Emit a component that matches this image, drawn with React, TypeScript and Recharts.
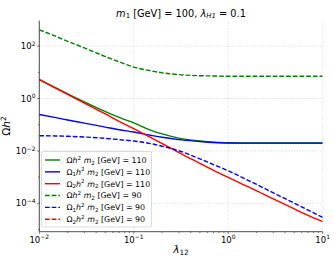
import React from 'react';
import { LineChart, Line, XAxis, YAxis, CartesianGrid, ReferenceLine, Legend, Customized } from 'recharts';

// lambda_12 sample points
const LAMBDA12 = [0.01, 0.015, 0.02, 0.03, 0.05, 0.07, 0.1, 0.15, 0.2, 0.3, 0.5, 0.7, 1, 1.5, 2, 3, 5, 7, 10];

// m2 = 110 GeV
const OMEGA_110 = [5.37, 2.57, 1.51, 0.741, 0.316, 0.19, 0.117, 0.0625, 0.0445, 0.0309, 0.024, 0.0214, 0.0204, 0.0201, 0.02, 0.02, 0.02, 0.02, 0.02];
const OMEGA1_110 = [0.245, 0.186, 0.151, 0.115, 0.0813, 0.0646, 0.0525, 0.0398, 0.0331, 0.0269, 0.0229, 0.0209, 0.02, 0.0199, 0.0199, 0.0199, 0.0199, 0.0199, 0.0199];
const OMEGA2_110 = [5.25, 2.45, 1.43, 0.661, 0.257, 0.135, 0.0708, 0.0331, 0.0191, 0.00871, 0.00339, 0.00182, 0.000977, 0.00049, 0.000302, 0.000148, 0.0000617, 0.0000347, 0.00002];

// m2 = 90 GeV
const OMEGA_90 = [417, 234, 151, 85.1, 39.8, 25.1, 15.8, 11.5, 9.55, 8.13, 7.41, 7.24, 7.08, 7.08, 7.08, 7.08, 7.08, 7.08, 7.08];
const OMEGA1_90 = [0.038, 0.0372, 0.0363, 0.0339, 0.0302, 0.0269, 0.024, 0.0191, 0.0151, 0.0102, 0.00501, 0.00302, 0.00174, 0.000871, 0.000525, 0.000251, 0.000102, 0.000055, 0.0000295];
const OMEGA2_90 = [null, null, null, null, null, null, null, null, null, null, null, null, null, null, null, null, null, null, null];

// axis ticks
const X_MAJOR = [0.01, 0.1, 1, 10];
const X_MINOR = [0.02, 0.03, 0.04, 0.05, 0.06, 0.07, 0.08, 0.09, 0.2, 0.3, 0.4, 0.5, 0.6, 0.7, 0.8, 0.9, 2, 3, 4, 5, 6, 7, 8, 9];
const Y_MAJOR = [1e-4, 1e-2, 1, 100];
const Y_MINOR = [1e-5, 1e-3, 1e-1, 10];
const Y_DOMAIN = [8.3e-6, 930];

// series
const SERIES_KEYS = ['g110', 'b110', 'r110', 'g90', 'b90', 'r90'];
const SERIES_SUB = ['', '1', '2', '', '1', '2'];
const SERIES_MASS = ['110', '110', '110', '90', '90', '90'];
const SERIES_COLORS = ['#008000', '#0000ff', '#ff0000', '#008000', '#0000ff', '#ff0000'];
const SERIES_DASHED = [false, false, false, true, true, true];
const SERIES_VALUES = [OMEGA_110, OMEGA1_110, OMEGA2_110, OMEGA_90, OMEGA1_90, OMEGA2_90];

const TITLE_M1 = '100';
const TITLE_LAMBDA = '0.1';

const data = LAMBDA12.map((x, i) => {
  const row: any = { x };
  SERIES_KEYS.forEach((k, j) => {
    row[k] = SERIES_VALUES[j][i];
  });
  return row;
});

const FONT = 'DejaVu Sans, sans-serif';
const DASH = '4.7 2';
const AXIS_COLOR = '#222';

const expText = (v: number) => {
  const e = Math.round(Math.log10(v));
  return e < 0 ? '\u2212' + Math.abs(e) : String(e);
};

const XTick = (props: any) => {
  const { x, y, payload } = props;
  const v = payload.value;
  const major = X_MAJOR.some((m) => Math.abs(m - v) / m < 1e-6);
  return (
    <g>
      <line x1={x} x2={x} y1={y} y2={y + (major ? 2.2 : 1.3)} stroke={AXIS_COLOR} strokeWidth={0.6} />
      {major && (
        <text x={x} y={y + 11} textAnchor="middle" fontSize={8.5} fill="#000" fontFamily={FONT}>
          <tspan>10</tspan>
          <tspan dy={-3.4} fontSize={6}>{expText(v)}</tspan>
        </text>
      )}
    </g>
  );
};

const YTick = (props: any) => {
  const { x, y, payload } = props;
  const v = payload.value;
  const major = Y_MAJOR.some((m) => Math.abs(m - v) / m < 1e-6);
  return (
    <g>
      <line x1={x - (major ? 2.2 : 1.3)} x2={x} y1={y} y2={y} stroke={AXIS_COLOR} strokeWidth={0.6} />
      {major && (
        <text x={x - 3.8} y={y + 3} textAnchor="end" fontSize={8.5} fill="#000" fontFamily={FONT}>
          <tspan>10</tspan>
          <tspan dy={-3.4} fontSize={6}>{expText(v)}</tspan>
        </text>
      )}
    </g>
  );
};

const LegendLabel = ({ x, y, sub, mass }: { x: number; y: number; sub: string; mass: string }) => {
  const fs = 7.9;
  const ss = 5.6;
  return (
    <text x={x} y={y} fontSize={fs} fontFamily={FONT} fill="#000" style={{ whiteSpace: 'pre' }}>
      <tspan>Ω</tspan>
      {sub ? <tspan fontSize={ss} dy={1.8}>{sub}</tspan> : null}
      <tspan fontStyle="italic" dy={sub ? -1.8 : 0}>h</tspan>
      <tspan fontSize={ss} dy={-3.2}>2</tspan>
      <tspan dy={3.2}> </tspan>
      <tspan fontStyle="italic">m</tspan>
      <tspan fontSize={ss} dy={1.8}>2</tspan>
      <tspan dy={-1.8}>{' [GeV] = ' + mass}</tspan>
    </text>
  );
};

const renderLegend = () => {
  const w = 110;
  const h = 75.5;
  return (
    <svg width={w + 1} height={h + 1} style={{ display: 'block' }}>
      <rect x={0.5} y={0.5} width={w} height={h} rx={2} ry={2} fill="#fff" fillOpacity={0.8} stroke="#cccccc" strokeWidth={0.7} />
      {SERIES_KEYS.map((k, i) => {
        const cy = 9 + i * 11.85;
        return (
          <g key={k}>
            <line x1={4} x2={19} y1={cy} y2={cy} stroke={SERIES_COLORS[i]} strokeWidth={1.4} strokeDasharray={SERIES_DASHED[i] ? DASH : undefined} />
            <LegendLabel x={25.5} y={cy + 2.8} sub={SERIES_SUB[i]} mass={SERIES_MASS[i]} />
          </g>
        );
      })}
    </svg>
  );
};

const Texts = () => (
  <g fontFamily={FONT} fill="#000">
    <text x={181} y={16.5} textAnchor="middle" fontSize={9.8} style={{ whiteSpace: 'pre' }}>
      <tspan fontStyle="italic">m</tspan>
      <tspan fontSize={6.9} dy={1.9}>1</tspan>
      <tspan dy={-1.9}>{' [GeV] = ' + TITLE_M1 + ', '}</tspan>
      <tspan fontStyle="italic">λ</tspan>
      <tspan fontSize={6.9} dy={1.9} fontStyle="italic">H1</tspan>
      <tspan dy={-1.9}>{' = ' + TITLE_LAMBDA}</tspan>
    </text>
    <text x={181} y={253} textAnchor="middle" fontSize={10.5}>
      <tspan fontStyle="italic">λ</tspan>
      <tspan fontSize={7.3} dy={2.3}>12</tspan>
    </text>
    <text x={10.3} y={126} textAnchor="middle" fontSize={10.5} transform="rotate(-90 10.3 126)">
      <tspan>Ω</tspan>
      <tspan fontStyle="italic">h</tspan>
      <tspan fontSize={7.3} dy={-4}>2</tspan>
    </text>
  </g>
);

export default function App() {
  return (
    <div style={{ position: 'absolute', left: 0, top: 0, width: 334, height: 262, background: '#fff' }}>
      <LineChart width={334} height={262} data={data} margin={{ top: 20.7, right: 11.3, left: 0, bottom: 0 }}>
        <CartesianGrid vertical={false} stroke="#c8c8c8" strokeDasharray="1 1.6" strokeWidth={0.7} horizontalValues={Y_MAJOR} />
        {X_MAJOR.map((v) => (
          <ReferenceLine key={v} x={v} stroke="#c8c8c8" strokeDasharray="1 1.6" strokeWidth={0.7} />
        ))}
        <XAxis
          dataKey="x"
          type="number"
          scale="log"
          domain={[0.01, 10]}
          allowDataOverflow
          ticks={[...X_MAJOR, ...X_MINOR]}
          interval={0}
          tickSize={0}
          tickMargin={0}
          tickLine={false}
          tick={<XTick />}
          height={30.3}
          axisLine={{ stroke: AXIS_COLOR, strokeWidth: 0.8 }}
        />
        <XAxis
          xAxisId="top"
          dataKey="x"
          type="number"
          scale="log"
          domain={[0.01, 10]}
          allowDataOverflow
          orientation="top"
          tick={false}
          tickLine={false}
          height={0}
          axisLine={{ stroke: AXIS_COLOR, strokeWidth: 0.8 }}
        />
        <YAxis
          type="number"
          scale="log"
          domain={Y_DOMAIN}
          allowDataOverflow
          ticks={[...Y_MAJOR, ...Y_MINOR]}
          interval={0}
          tickSize={0}
          tickMargin={0}
          tickLine={false}
          tick={<YTick />}
          width={39.3}
          axisLine={{ stroke: AXIS_COLOR, strokeWidth: 0.8 }}
        />
        <YAxis
          yAxisId="right"
          orientation="right"
          type="number"
          scale="log"
          domain={Y_DOMAIN}
          allowDataOverflow
          tick={false}
          tickLine={false}
          width={0}
          axisLine={{ stroke: AXIS_COLOR, strokeWidth: 0.8 }}
        />
        {SERIES_KEYS.map((k, i) => (
          <Line
            key={k}
            dataKey={k}
            type="monotone"
            stroke={SERIES_COLORS[i]}
            strokeWidth={1.4}
            strokeDasharray={SERIES_DASHED[i] ? DASH : undefined}
            dot={false}
            activeDot={false}
            isAnimationActive={false}
          />
        ))}
        <Legend
          layout="vertical"
          align="center"
          verticalAlign="middle"
          content={renderLegend}
          wrapperStyle={{ position: 'absolute', left: 40.5, top: 151.2, width: 112, height: 77 }}
        />
        <Customized component={Texts} />
      </LineChart>
    </div>
  );
}
